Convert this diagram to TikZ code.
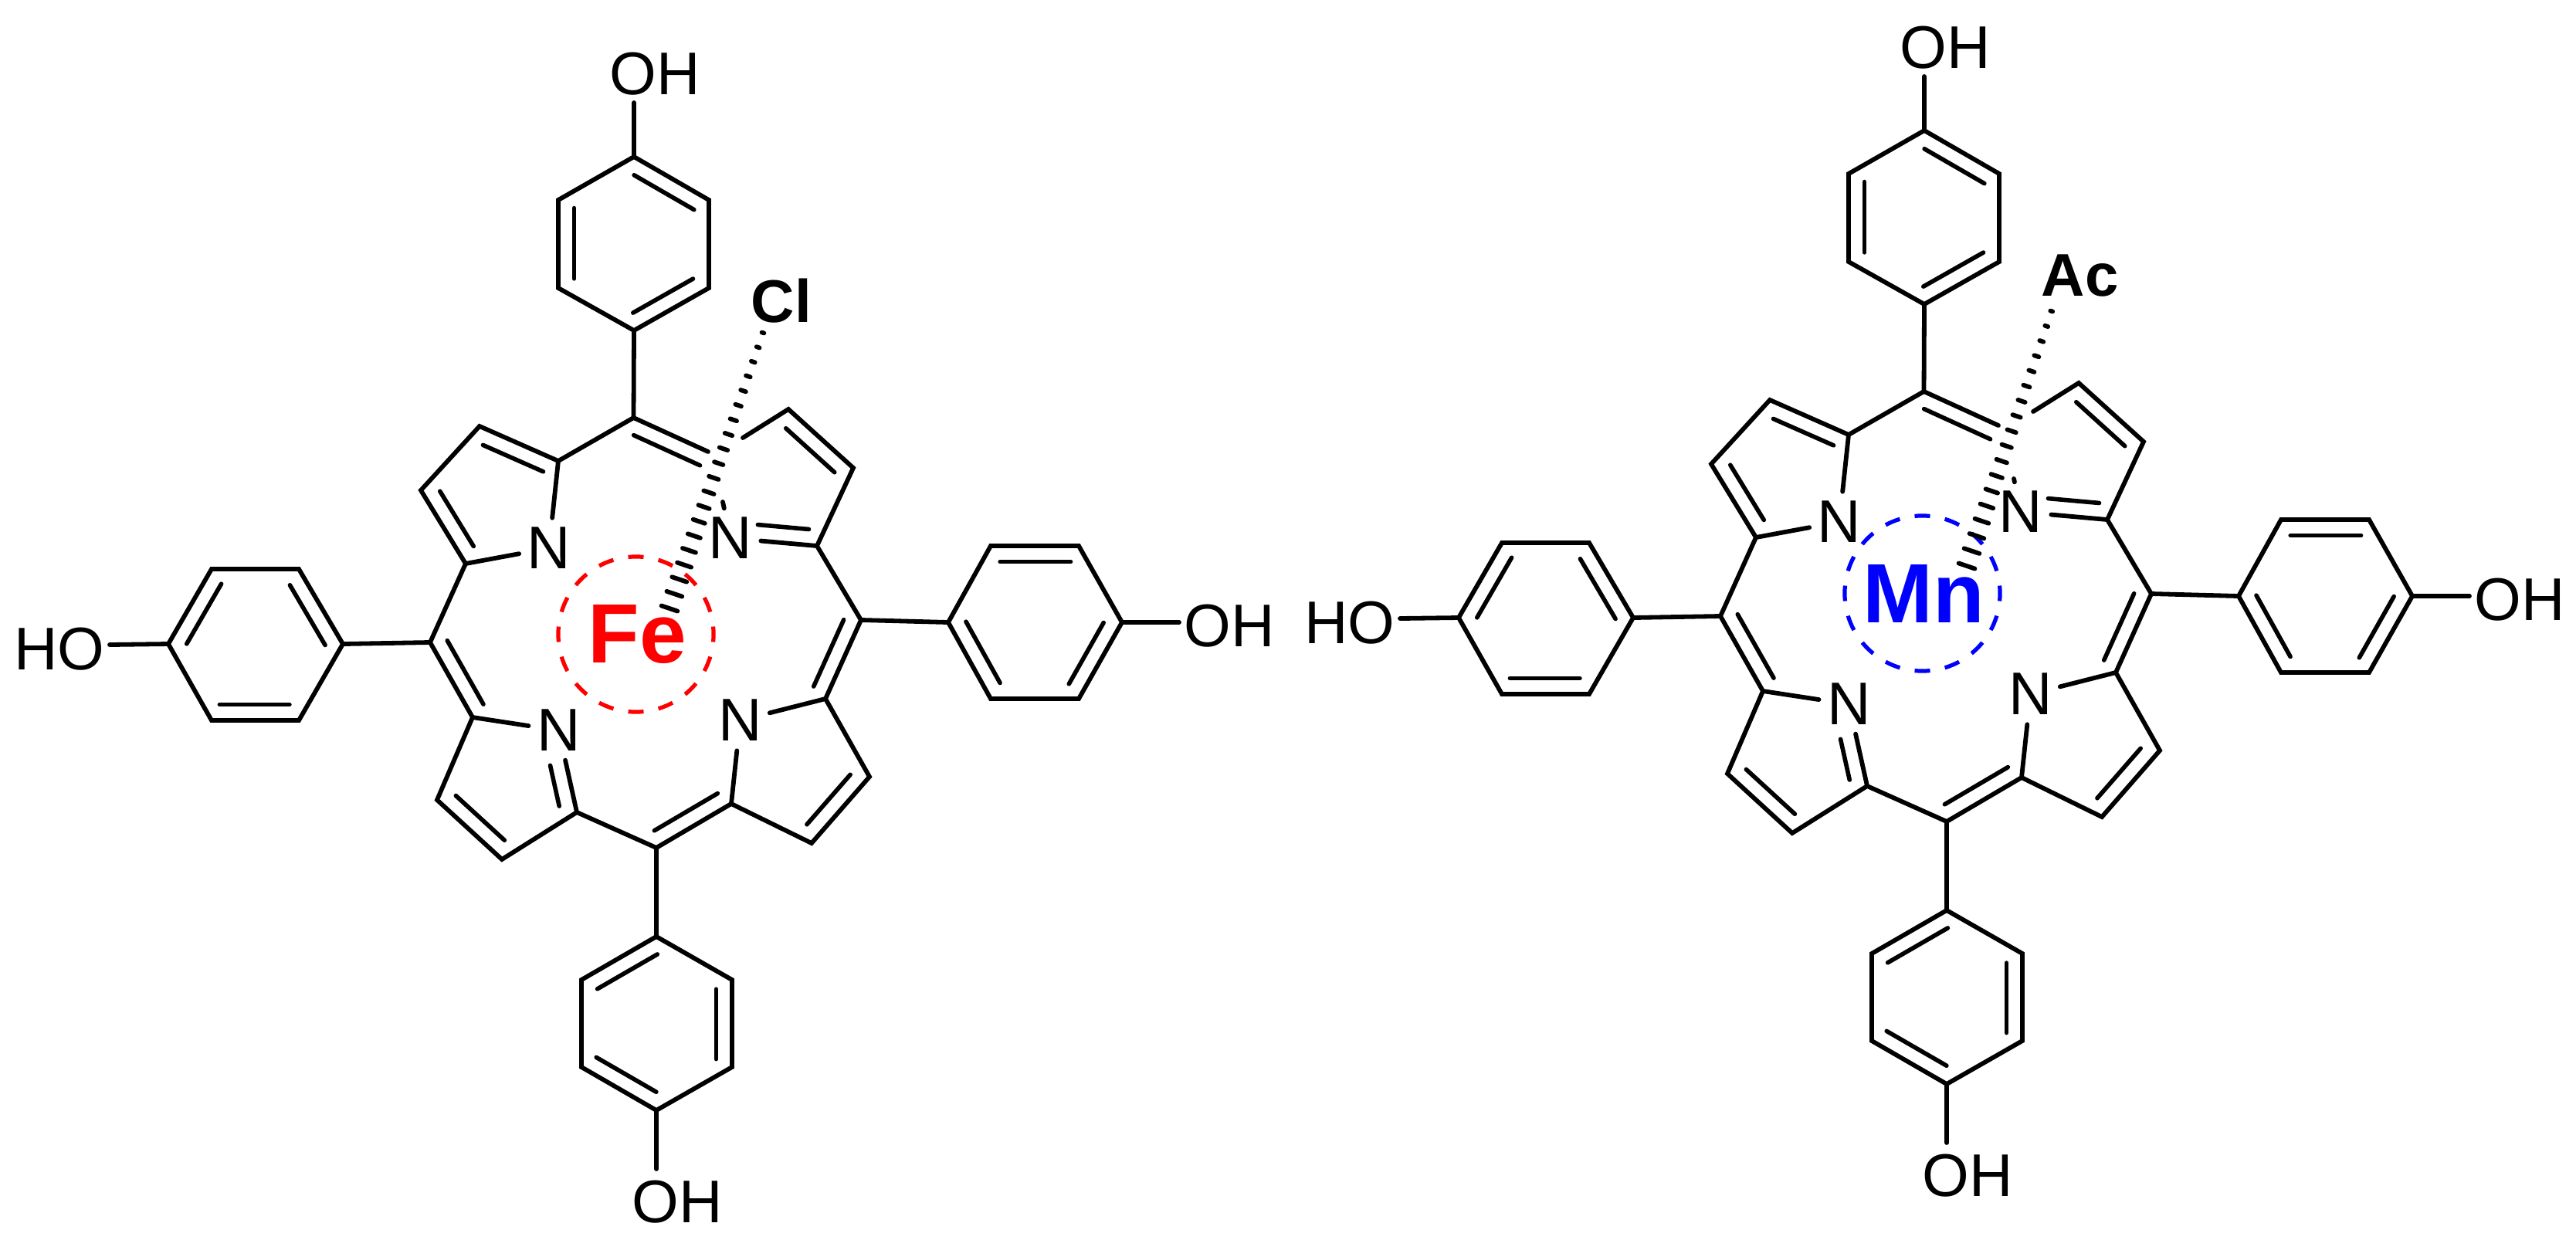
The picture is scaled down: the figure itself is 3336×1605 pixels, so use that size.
\documentclass[tikz,border=0pt]{standalone}
\usepackage{fontspec}
\setmainfont{Liberation Sans}
\usetikzlibrary{calc}
\tikzset{
  bond/.style={line width=0.058cm,line cap=round,line join=miter},
  dbond/.style={line width=0.056cm,line cap=round},
  hashline/.style={line width=0.058cm,line cap=round},
  atom/.style={circle,inner sep=0,minimum size=0.76cm,font=\fontsize{22.2}{26}\selectfont},
  grp/.style={inner sep=0,anchor=base,font=\fontsize{22.2}{26}\selectfont},
  ligand/.style={grp,font=\fontsize{22.2}{26}\selectfont\bfseries},
  metal/.style={inner sep=0,anchor=base,font=\fontsize{31}{36}\selectfont\bfseries},
  mring/.style={circle,draw,inner sep=0,minimum size=2.01cm,line width=0.052cm,
    dash pattern=on 0.2cm off 0.1947cm,dash phase=0.1cm},
}
\newcommand{\dbl}[4]{\draw[dbond] ($(#1)!#3!(#2)!0.205cm!-90:(#2)$) -- ($(#1)!#4!(#2)!0.205cm!-90:(#2)$);}
\newcommand{\porphyrin}[1]{%
% top phenyl
\coordinate (#1t1) at (821,203);\coordinate (#1t2) at (918,259);\coordinate (#1t3) at (918,373);%
\coordinate (#1t4) at (821,428);\coordinate (#1t5) at (723,373);\coordinate (#1t6) at (723,259);%
\coordinate (#1tO) at (821,133);%
% left phenyl
\coordinate (#1l1) at (218,834);\coordinate (#1l2) at (274,737);\coordinate (#1l3) at (387,737);%
\coordinate (#1l4) at (444,834);\coordinate (#1l5) at (387,933);\coordinate (#1l6) at (274,933);%
\coordinate (#1lO) at (142,835);%
% right phenyl
\coordinate (#1r1) at (1228,806);\coordinate (#1r2) at (1283,707);\coordinate (#1r3) at (1397,707);%
\coordinate (#1r4) at (1453,806);\coordinate (#1r5) at (1397,905);\coordinate (#1r6) at (1283,905);%
\coordinate (#1rO) at (1527,806);%
% bottom phenyl
\coordinate (#1b1) at (850,1213);\coordinate (#1b2) at (948,1269);\coordinate (#1b3) at (948,1382);%
\coordinate (#1b4) at (850,1438);\coordinate (#1b5) at (753,1382);\coordinate (#1b6) at (753,1269);%
\coordinate (#1bO) at (850,1514);%
% meso carbons
\coordinate (#1mt) at (820.5,541);\coordinate (#1ml) at (557,832);%
\coordinate (#1mr) at (1115,803);\coordinate (#1mb) at (850,1098);%
% pyrroles
\coordinate (#1a1) at (723,597);\coordinate (#1p1) at (621,552);\coordinate (#1p2) at (545,635);\coordinate (#1a2) at (603,730);%
\coordinate (#1cut1) at (917,585);\coordinate (#1cut2) at (962,567);%
\coordinate (#1p3) at (1021,530);\coordinate (#1p4) at (1105,606);\coordinate (#1a3) at (1058,707);%
\coordinate (#1a4) at (612,929);\coordinate (#1p5) at (566,1036);\coordinate (#1p6) at (650,1113);\coordinate (#1a5) at (747,1052);%
\coordinate (#1a6) at (947,1041);\coordinate (#1p7) at (1051,1092);\coordinate (#1p8) at (1126,1006);\coordinate (#1a7) at (1069,905);%
\node[atom] (#1N1) at (711,710) {N};%
\node[atom] (#1N2) at (946,697) {N};%
\node[atom] (#1N3) at (723.5,946) {N};%
\node[atom] (#1N4) at (958.5,933) {N};%
% OH groups
\node[grp] (#1OHt) at (848,122) {OH};%
\node[grp] (#1OHl) at (77,867) {HO};%
\node[grp] (#1OHr) at (1592,837) {OH};%
\node[grp] (#1OHb) at (877,1583) {OH};%
% rings
\draw[bond] (#1t1) -- (#1t2) -- (#1t3) -- (#1t4) -- (#1t5) -- (#1t6) -- cycle;%
\draw[bond] (#1l1) -- (#1l2) -- (#1l3) -- (#1l4) -- (#1l5) -- (#1l6) -- cycle;%
\draw[bond] (#1r1) -- (#1r2) -- (#1r3) -- (#1r4) -- (#1r5) -- (#1r6) -- cycle;%
\draw[bond] (#1b1) -- (#1b2) -- (#1b3) -- (#1b4) -- (#1b5) -- (#1b6) -- cycle;%
\dbl{#1t1}{#1t2}{.107}{.908}\dbl{#1t3}{#1t4}{.107}{.908}\dbl{#1t5}{#1t6}{.107}{.908}%
\dbl{#1l1}{#1l2}{.107}{.908}\dbl{#1l3}{#1l4}{.107}{.908}\dbl{#1l5}{#1l6}{.107}{.908}%
\dbl{#1r2}{#1r3}{.107}{.908}\dbl{#1r4}{#1r5}{.107}{.908}\dbl{#1r6}{#1r1}{.107}{.908}%
\dbl{#1b2}{#1b3}{.107}{.908}\dbl{#1b4}{#1b5}{.107}{.908}\dbl{#1b6}{#1b1}{.107}{.908}%
% substituent bonds
\draw[bond] (#1t1) -- (#1tO);%
\draw[bond] (#1l1) -- (#1lO);%
\draw[bond] (#1r4) -- (#1rO);%
\draw[bond] (#1b4) -- (#1bO);%
\draw[bond] (#1t4) -- (#1mt);%
\draw[bond] (#1l4) -- (#1ml);%
\draw[bond] (#1r1) -- (#1mr);%
\draw[bond] (#1b1) -- (#1mb);%
% macrocycle
\draw[bond] (#1cut1) -- (#1mt) -- (#1a1) -- (#1p1) -- (#1p2) -- (#1a2) -- (#1ml) -- (#1a4) -- (#1p5) -- (#1p6) -- (#1a5) -- (#1mb) -- (#1a6) -- (#1p7) -- (#1p8) -- (#1a7) -- (#1mr) -- (#1a3) -- (#1p4) -- (#1p3) -- (#1cut2);%
\draw[bond] (#1a1) -- (#1N1);%
\draw[bond] (#1a2) -- (#1N1);%
\draw[bond] (#1a3) -- (#1N2);%
\draw[bond] (#1a4) -- (#1N3);%
\draw[bond] (#1a5) -- (#1N3);%
\draw[bond] (#1a6) -- (#1N4);%
\draw[bond] (#1a7) -- (#1N4);%
\dbl{#1p1}{#1a1}{.125}{.89}\dbl{#1a2}{#1p2}{.125}{.875}%
\dbl{#1p3}{#1p4}{.125}{.875}\dbl{#1a3}{#1N2}{.11}{.70}%
\dbl{#1N3}{#1a5}{.386}{.883}\dbl{#1p6}{#1p5}{.125}{.875}%
\dbl{#1p8}{#1p7}{.125}{.875}%
\dbl{#1mt}{#1cut1}{.09}{.98}\dbl{#1a6}{#1mb}{.075}{.92}%
\dbl{#1a4}{#1ml}{.07}{.92}\dbl{#1mr}{#1a7}{.08}{.926}%
}
\begin{document}
\begin{tikzpicture}[x=0.01cm,y=-0.01cm]%
\useasboundingbox (0,0) rectangle (3336,1605);%
% iron complex
\porphyrin{L}%
\coordinate (Lstub) at (936,650);%
\draw[bond] (Lstub) -- (LN2);%
\node[mring,draw=red] (Lring) at (823.5,821.5) {};%
\coordinate (Lhtop) at (988,431);%
\coordinate (Lhbot) at (867,788);%
\foreach \i in {0,...,19}{%
\draw[hashline] ($(Lhtop)!\i/19!(Lhbot)+({-(1.5+\i*0.5)*0.947},{-(1.5+\i*0.5)*0.32})$) -- ($(Lhtop)!\i/19!(Lhbot)+({(1.5+\i*0.5)*0.947},{(1.5+\i*0.5)*0.32})$);%
}
\node[metal,text=red] (LFe) at (825,858) {Fe};%
\node[ligand] (LCl) at (1012,417) {Cl};%
% manganese complex
\begin{scope}[shift={(1671,-34)}]
\porphyrin{R}%
\coordinate (Rstub) at (937,654);%
\draw[bond] (Rstub) -- (RN2);%
\end{scope}
\node[mring,draw=blue] (Rring) at (2489.5,768.5) {};%
\coordinate (Rhtop) at (2656.7,403);%
\coordinate (Rhbot) at (2547,733);%
\foreach \i in {0,...,17}{%
\draw[hashline] ($(Rhtop)!\i/17!(Rhbot)+({-(1.5+\i*0.56)*0.947},{-(1.5+\i*0.56)*0.32})$) -- ($(Rhtop)!\i/17!(Rhbot)+({(1.5+\i*0.56)*0.947},{(1.5+\i*0.56)*0.32})$);%
}
\node[metal,text=blue] (RMn) at (2491,806) {Mn};%
\node[ligand] (RAc) at (2693.5,383) {Ac};%
\end{tikzpicture}
\end{document}
